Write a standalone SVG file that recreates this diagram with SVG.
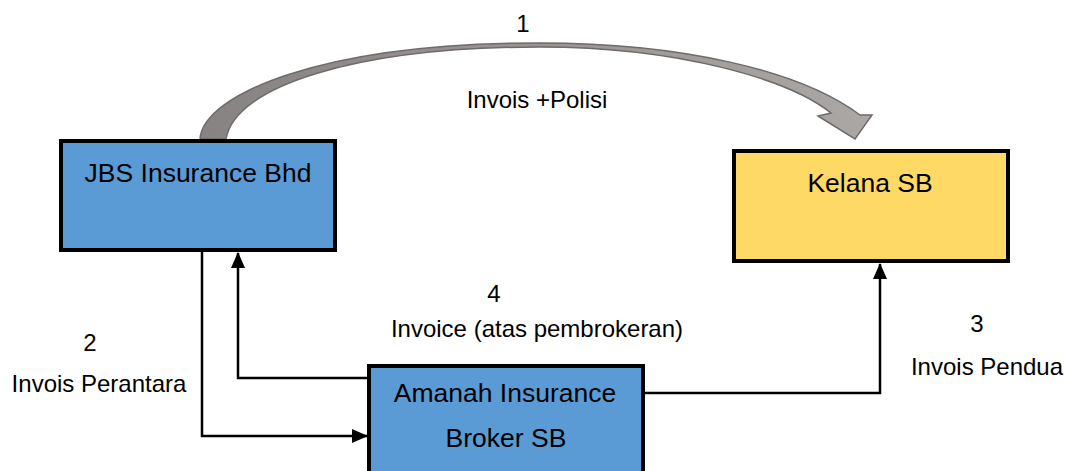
<svg xmlns="http://www.w3.org/2000/svg" width="1065" height="471" viewBox="0 0 1065 471">
<style>
.box{stroke:#000;stroke-width:4}
.blue{fill:#5b9bd5}
.yellow{fill:#ffd966}
.nt{font-family:"Liberation Sans",Arial,sans-serif;font-size:26.5px;fill:#000;text-anchor:middle}
.lt{font-family:"Liberation Sans",Arial,sans-serif;font-size:24px;fill:#000;text-anchor:middle}
.conn{fill:none;stroke:#000;stroke-width:2.5}
</style>
<defs>
<marker id="ah" markerUnits="userSpaceOnUse" markerWidth="16" markerHeight="14" refX="15" refY="7" orient="auto">
<path d="M0,0 L16,7 L0,14 Z" fill="#000"/>
</marker>
<linearGradient id="gr" x1="0" y1="0" x2="1" y2="0">
<stop offset="0" stop-color="#878382"/>
<stop offset="1" stop-color="#aba7a5"/>
</linearGradient>
</defs>
<rect width="1065" height="471" fill="#fff"/>
<g id="connectors">
<path id="c1" d="M200,139 C203,95 320,43 540,43 C680,43 800,70 860,115 L872,115 L855,139 L818,116 L831,113 C790,80 680,47 540,47 C360,47 235,85 226,139 Z" fill="url(#gr)" stroke="#6f6b6a" stroke-width="1.5" stroke-linejoin="miter"/>
<path id="c2" class="conn" d="M202,252 L202,436 L367,436" marker-end="url(#ah)"/>
<path id="c4" class="conn" d="M367,378 L238,378 L238,253" marker-end="url(#ah)"/>
<path id="c3" class="conn" d="M645,393 L880,393 L880,264" marker-end="url(#ah)"/>
</g>
<g id="labels">
<text class="lt" x="523" y="32">1</text>
<text class="lt" x="537" y="108">Invois +Polisi</text>
<text class="lt" x="90" y="351">2</text>
<text class="lt" x="99" y="392">Invois Perantara</text>
<text class="lt" x="494" y="302">4</text>
<text class="lt" x="537" y="337">Invoice (atas pembrokeran)</text>
<text class="lt" x="977" y="332">3</text>
<text class="lt" x="987" y="375">Invois Pendua</text>
</g>
<g id="jbs">
<rect class="box blue" x="61" y="141" width="274" height="109"/>
<text class="nt" x="198" y="182">JBS Insurance Bhd</text>
</g>
<g id="kelana">
<rect class="box yellow" x="734" y="151" width="274" height="110"/>
<text class="nt" x="870" y="192">Kelana SB</text>
</g>
<g id="amanah">
<rect class="box blue" x="369" y="366" width="274" height="110"/>
<text class="nt" x="505" y="402">Amanah Insurance</text>
<text class="nt" x="506" y="447">Broker SB</text>
</g>
</svg>
